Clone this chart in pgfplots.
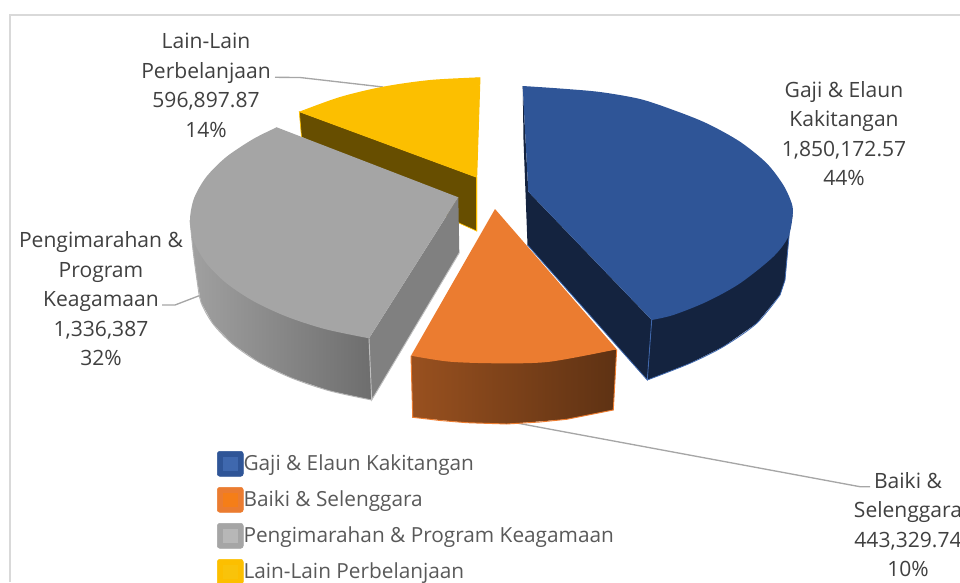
\documentclass[border=0pt]{standalone}
\usepackage{fontspec}
\setmainfont{Open Sans}
\usepackage{pgfplots}
\pgfplotsset{compat=1.18}
\definecolor{blueT}{HTML}{2F5597}
\definecolor{blueS}{HTML}{14233F}
\definecolor{blueE}{HTML}{3F68AE}
\definecolor{orT}{HTML}{EB7C30}
\definecolor{orE}{HTML}{ED7D31}
\definecolor{grT}{HTML}{A5A5A5}
\definecolor{grF}{HTML}{808080}
\definecolor{yeT}{HTML}{FCBF00}
\definecolor{yeS}{HTML}{674E00}
\definecolor{lead}{HTML}{A6A6A6}
\definecolor{lbl}{HTML}{404040}
\definecolor{leg}{HTML}{595959}
\newcommand{\swatch}[2]{\addlegendimage{legend image code/.code={
  \fill[#1,rounded corners=2pt] (-2pt,-9.4pt) rectangle (17.5pt,9.4pt);
  \fill[#2] (2.5pt,-5.2pt) rectangle (13pt,5.2pt);}}}
\pgfplotsset{face/.style={forget plot,fill=#1,draw=none}}
\newcommand{\lblfont}{\fontsize{15.8}{22.1}\selectfont}
\begin{document}
\begin{tikzpicture}
\clip (0,0) rectangle (720pt,436.5pt);
\begin{axis}[
  at={(0,0)}, anchor=south west,
  scale only axis, width=720pt, height=436.5pt,
  xmin=0, xmax=960, ymin=0, ymax=582, y dir=reverse,
  hide axis, clip=false,
  legend style={at={(axis cs:217,451)}, anchor=north west, draw=none, fill=none,
    inner sep=0pt, outer sep=0pt, font=\fontsize{15.6}{17}\selectfont\color{leg},
    row sep=7.8pt, nodes={inner sep=0pt, outer sep=0pt}},
  legend cell align=left,
]
% chart frame
\addplot[forget plot,draw=black!15,line width=1.5pt] coordinates {(10,582)(10,15)(960,15)};

% leader lines
\addplot[forget plot,draw=lead,line width=1pt] coordinates {(275,77.3)(300,77.5)(383,87)};
\addplot[forget plot,draw=lead,line width=1pt] coordinates {(162,305)(175,305)(201,295)};
\addplot[forget plot,draw=lead,line width=1pt] coordinates {(515,422.7)(860,486.7)(870,486.7)};

% Lain-Lain Perbelanjaan
\addplot[forget plot,fill=yeS,draw=yeT,line width=0.5pt] coordinates {(299.3,111.7)(301.5,137)(459,223)(476.7,231)(476.7,177.3)} --cycle;
\addplot[face=yeT] coordinates {(299.3,111.7)(380,92)(440,82)(480,77.3)(476.7,177.3)} --cycle;
\addplot[face=yeT,smooth] coordinates {(299.3,111.7)(340,97)(383,86.7)(430,80)(480,77.3)};
\addplot[forget plot,draw=yeT,line width=0.7pt] coordinates {(480,77.3)(476.7,177.3)(476.7,231)};

% Pengimarahan & Program Keagamaan
\addplot[forget plot,left color=black!37,right color=black!57,draw=none] coordinates {(190,220)(193,250)(197,280)(201,302.2)(213,323.8)(232.5,344)(259,362.3)(291.6,378)(329.5,390.8)(371.7,400)(369,338.3)} --cycle;
\addplot[forget plot,smooth,draw=black!30,line width=0.7pt] coordinates {(190,220)(193,250)(197,280)(201,302.2)(213,323.8)(232.5,344)(259,362.3)(291.6,378)(329.5,390.8)(371.7,400)};
\addplot[face=grF] coordinates {(458.3,197.3)(459.3,252.7)(371.7,400)(369,338.3)} --cycle;
\addplot[forget plot,draw=black!25,line width=0.7pt] coordinates {(459.3,252.7)(371.7,400)(369,338.3)};
\addplot[face=grT] coordinates {(276.7,127.3)(458.3,197.3)(369,338.3)(300,310)(220,260)(205,190)} --cycle;
\addplot[face=grT,smooth] coordinates {(276.7,127.3)(253.2,139)(226.2,157)(206.3,176.9)(194.1,198.1)(190,220)(194.1,241.9)(206.3,263.1)(226.2,283)(253.2,301)(286.4,316.5)(325,329.1)(369,338.3)};

% Gaji & Elaun Kakitangan
\addplot[face=blueS] coordinates {(651.7,320)(792.7,215)(789.3,233.3)(785,280)(780,295)(756.7,323.3)(723.3,346.7)(690,363.3)(647.3,380)} --cycle;
\addplot[forget plot,smooth,draw=blueE,line width=0.6pt] coordinates {(780,295)(756.7,323.3)(723.3,346.7)(690,363.3)(647.3,380)};
\addplot[forget plot,draw=blueE,line width=0.6pt] coordinates {(789.3,233.3)(785,280)(780,295)};
\addplot[face=blueS] coordinates {(522.7,86)(528.3,191.7)(651.7,320)(647.3,380)(527.5,245)(523.5,140)} --cycle;
\addplot[face=blueT] coordinates {(522.7,86)(600,110)(700,200)(700,290)(651.7,320)(528.3,191.7)} --cycle;
\addplot[face=blueT,smooth] coordinates {(522.7,86)(560,88.5)(600,92)(640,99)(673.3,110)(706.7,123.3)(740,141.7)(766.7,163.3)(783.3,185)(791.7,203.3)(792.7,215)(788.3,236.7)(773.3,256.7)(740,283.3)(706.7,301.7)(673.3,315)(651.7,320)};
\addplot[forget plot,draw=blueE,line width=0.6pt] coordinates {(651.7,320)(647.3,380)(527.5,245)};

% Baiki & Selenggara
\addplot[forget plot,left color=orT!65!black,right color=orT!40!black,draw=none] coordinates {(411,355.7)(412.7,417.3)(466.7,422.7)(506.7,424)(566.7,419.3)(613.3,410)(616.7,349.3)} --cycle;
\addplot[forget plot,draw=orE,line width=0.7pt] coordinates {(411,355.7)(412.7,417.3)(440,420.5)(466.7,422.7)(506.7,424)(540,422)(566.7,419.3)(613.3,410)(616.7,349.3)};
\addplot[face=orT] coordinates {(495,209)(616.7,349.3)(560,357)(500,358)(411,355.7)} --cycle;
\addplot[face=orT,smooth] coordinates {(411,355.7)(450,361.7)(500,363.3)(550,361.7)(616.7,349.3)};

% legend
\swatch{blueT}{blueE}
\addlegendentry{Gaji \& Elaun Kakitangan}
\swatch{orT}{orange!50!orT}
\addlegendentry{Baiki \& Selenggara}
\swatch{grT}{grT!80!white}
\addlegendentry{Pengimarahan \& Program Keagamaan}
\swatch{yeT}{yellow!12!yeT}
\addlegendentry{Lain-Lain Perbelanjaan}

% data labels
\node[align=center,text=lbl,font=\lblfont] at (axis cs:206,85.5) {Lain-Lain\\Perbelanjaan\\596,897.87\\14\%};
\node[align=center,text=lbl,font=\lblfont] at (axis cs:844,133.5) {Gaji \& Elaun\\Kakitangan\\1,850,172.57\\44\%};
\node[align=center,text=lbl,font=\lblfont] at (axis cs:101,299) {Pengimarahan \&\\Program\\Keagamaan\\1,336,387\\32\%};
\node[align=center,text=lbl,font=\lblfont] at (axis cs:908,524.5) {Baiki \&\\Selenggara\\443,329.74\\10\%};
\end{axis}
\end{tikzpicture}
\end{document}
